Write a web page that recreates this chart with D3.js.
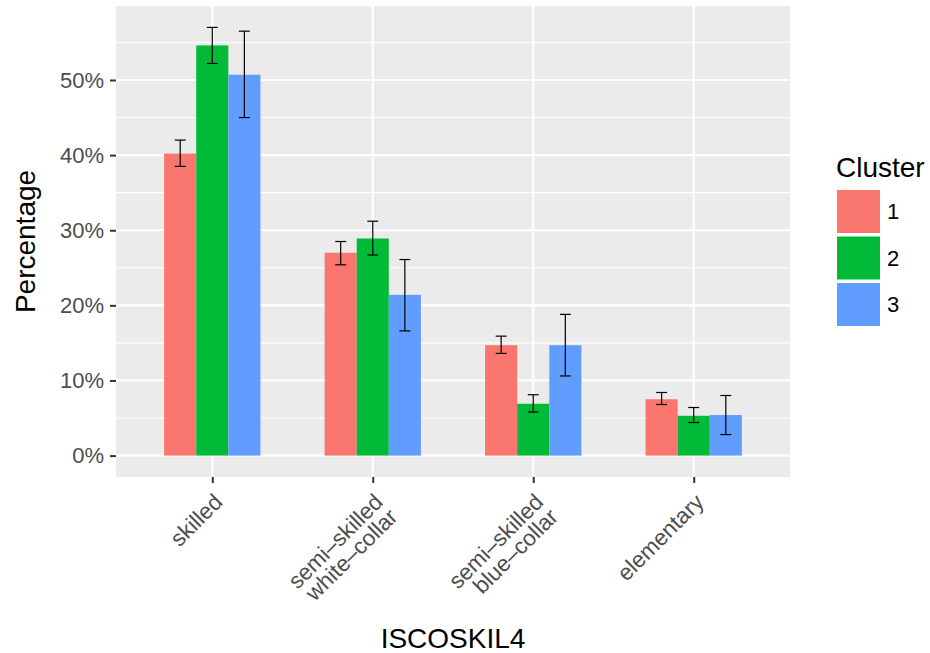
<!DOCTYPE html>
<html>
<head>
<meta charset="utf-8" />
<title>ISCOSKIL4 by cluster</title>
<script src="https://cdn.jsdelivr.net/npm/d3@7/dist/d3.min.js"></script>
<style>
  body { margin: 0; background: #fff; }
  svg text { font-family: "Liberation Sans", Arial, Helvetica, sans-serif; }
</style>
</head>
<body>
<div id="chart"></div>
<script>
// data (percent)
var categories = ["skilled", "semi–skilled\nwhite–collar", "semi–skilled\nblue–collar", "elementary"];
var clusters = ["1", "2", "3"];
var colors = ["#F8766D", "#00BA38", "#619CFF"];
var values = [
  [40.2, 27.0, 14.7, 7.5],
  [54.6, 28.9, 6.9, 5.3],
  [50.7, 21.4, 14.7, 5.4]
];
var lower = [
  [38.5, 25.4, 13.6, 6.8],
  [52.2, 26.7, 5.8, 4.4],
  [45.0, 16.6, 10.6, 2.8]
];
var upper = [
  [42.0, 28.5, 15.9, 8.4],
  [57.0, 31.2, 8.1, 6.4],
  [56.5, 26.1, 18.8, 8.0]
];
var yTicks = [0, 10, 20, 30, 40, 50];

var width = 930, height = 653;
var panel = { left: 116, right: 790, top: 6, bottom: 477 };

var svg = d3.select("#chart").append("svg")
    .attr("width", width)
    .attr("height", height);

var rows = [];
clusters.forEach(function (c, i) {
    categories.forEach(function (cat, j) {
        rows.push({ cat: cat, cluster: c, ci: i, value: values[i][j], lo: lower[i][j], hi: upper[i][j] });
    });
});

var ymax = d3.max(rows, function (d) { return d.hi; });
var pad = ymax * 0.05;
var y = d3.scaleLinear()
    .domain([-pad, ymax + pad])
    .range([panel.bottom, panel.top]);

var x = d3.scalePoint()
    .domain(categories)
    .range([panel.left, panel.right])
    .padding(0.6);

var step = x.step();
var x1 = d3.scaleBand()
    .domain(clusters)
    .range([-0.3 * step, 0.3 * step]);

// panel background
svg.append("rect")
    .attr("x", panel.left)
    .attr("y", panel.top)
    .attr("width", panel.right - panel.left)
    .attr("height", panel.bottom - panel.top)
    .attr("fill", "#EBEBEB");

// minor grid
var minor = yTicks.map(function (t) { return t + 5; });
minor.push(-5);
svg.append("g").selectAll("line")
    .data(minor.filter(function (t) { return y(t) < panel.bottom && y(t) > panel.top; }))
    .enter().append("line")
    .attr("x1", panel.left).attr("x2", panel.right)
    .attr("y1", function (d) { return y(d); })
    .attr("y2", function (d) { return y(d); })
    .attr("stroke", "#fff")
    .attr("stroke-width", 1.1);

// major grid
svg.append("g").selectAll("line")
    .data(yTicks)
    .enter().append("line")
    .attr("x1", panel.left).attr("x2", panel.right)
    .attr("y1", function (d) { return y(d); })
    .attr("y2", function (d) { return y(d); })
    .attr("stroke", "#fff")
    .attr("stroke-width", 2.2);

svg.append("g").selectAll("line")
    .data(categories)
    .enter().append("line")
    .attr("y1", panel.top).attr("y2", panel.bottom)
    .attr("x1", function (d) { return x(d); })
    .attr("x2", function (d) { return x(d); })
    .attr("stroke", "#fff")
    .attr("stroke-width", 2.2);

// bars
svg.append("g").selectAll("rect")
    .data(rows)
    .enter().append("rect")
    .attr("x", function (d) { return x(d.cat) + x1(d.cluster); })
    .attr("width", x1.bandwidth())
    .attr("y", function (d) { return y(d.value); })
    .attr("height", function (d) { return y(0) - y(d.value); })
    .attr("fill", function (d) { return colors[d.ci]; });

// error bars
var capHalf = x1.bandwidth() * 0.17;
var eb = svg.append("g").selectAll("g")
    .data(rows)
    .enter().append("g")
    .attr("stroke", "#000")
    .attr("stroke-width", 1.2);
eb.append("line")
    .attr("x1", function (d) { return x(d.cat) + x1(d.cluster) + x1.bandwidth() / 2; })
    .attr("x2", function (d) { return x(d.cat) + x1(d.cluster) + x1.bandwidth() / 2; })
    .attr("y1", function (d) { return y(d.lo); })
    .attr("y2", function (d) { return y(d.hi); });
["lo", "hi"].forEach(function (k) {
    eb.append("line")
        .attr("x1", function (d) { return x(d.cat) + x1(d.cluster) + x1.bandwidth() / 2 - capHalf; })
        .attr("x2", function (d) { return x(d.cat) + x1(d.cluster) + x1.bandwidth() / 2 + capHalf; })
        .attr("y1", function (d) { return y(d[k]); })
        .attr("y2", function (d) { return y(d[k]); });
});

// y axis
var yAxis = svg.append("g")
    .attr("transform", "translate(" + panel.left + ",0)")
    .call(d3.axisLeft(y).tickValues(yTicks).tickSize(6).tickPadding(6)
        .tickFormat(function (d) { return d + "%"; }));
yAxis.select(".domain").remove();
yAxis.selectAll("line").attr("stroke", "#333").attr("stroke-width", 2);
yAxis.selectAll("text")
    .attr("fill", "#4D4D4D")
    .style("font-size", "22px");

// x axis
var xAxis = svg.append("g")
    .attr("transform", "translate(0," + panel.bottom + ")")
    .call(d3.axisBottom(x).tickSize(6).tickFormat(""));
xAxis.select(".domain").remove();
xAxis.selectAll("line").attr("stroke", "#333").attr("stroke-width", 2);

var xl = svg.append("g").selectAll("g")
    .data(categories)
    .enter().append("g")
    .attr("transform", function (d) { return "translate(" + (x(d) + 0) + "," + (panel.bottom + 15) + ") rotate(-45)"; });
xl.append("text")
    .attr("text-anchor", "end")
    .attr("fill", "#4D4D4D")
    .style("font-size", "22.5px")
    .each(function (d) {
        var t = d3.select(this);
        d.split("\n").forEach(function (line, i) {
            t.append("tspan")
                .attr("x", 0)
                .attr("dy", i === 0 ? "0.72em" : "0.92em")
                .text(line);
        });
    });

// axis titles
svg.append("text")
    .attr("x", (panel.left + panel.right) / 2)
    .attr("y", 648)
    .attr("text-anchor", "middle")
    .style("font-size", "28px")
    .text("ISCOSKIL4");

svg.append("text")
    .attr("transform", "translate(35," + ((panel.top + panel.bottom) / 2) + ") rotate(-90)")
    .attr("text-anchor", "middle")
    .style("font-size", "28px")
    .text("Percentage");

// legend
var legend = svg.append("g").attr("transform", "translate(837,0)");
legend.append("text")
    .attr("x", -1)
    .attr("y", 177)
    .style("font-size", "28px")
    .text("Cluster");
var li = legend.selectAll("g.item")
    .data(clusters)
    .enter().append("g")
    .attr("class", "item")
    .attr("transform", function (d, i) { return "translate(0," + (190 + i * 46.5) + ")"; });
li.append("rect")
    .attr("width", 43)
    .attr("height", 43)
    .attr("fill", function (d, i) { return colors[i]; });
li.append("text")
    .attr("x", 50)
    .attr("y", 21.5)
    .attr("dy", "0.36em")
    .style("font-size", "22px")
    .text(function (d) { return d; });
</script>
</body>
</html>
